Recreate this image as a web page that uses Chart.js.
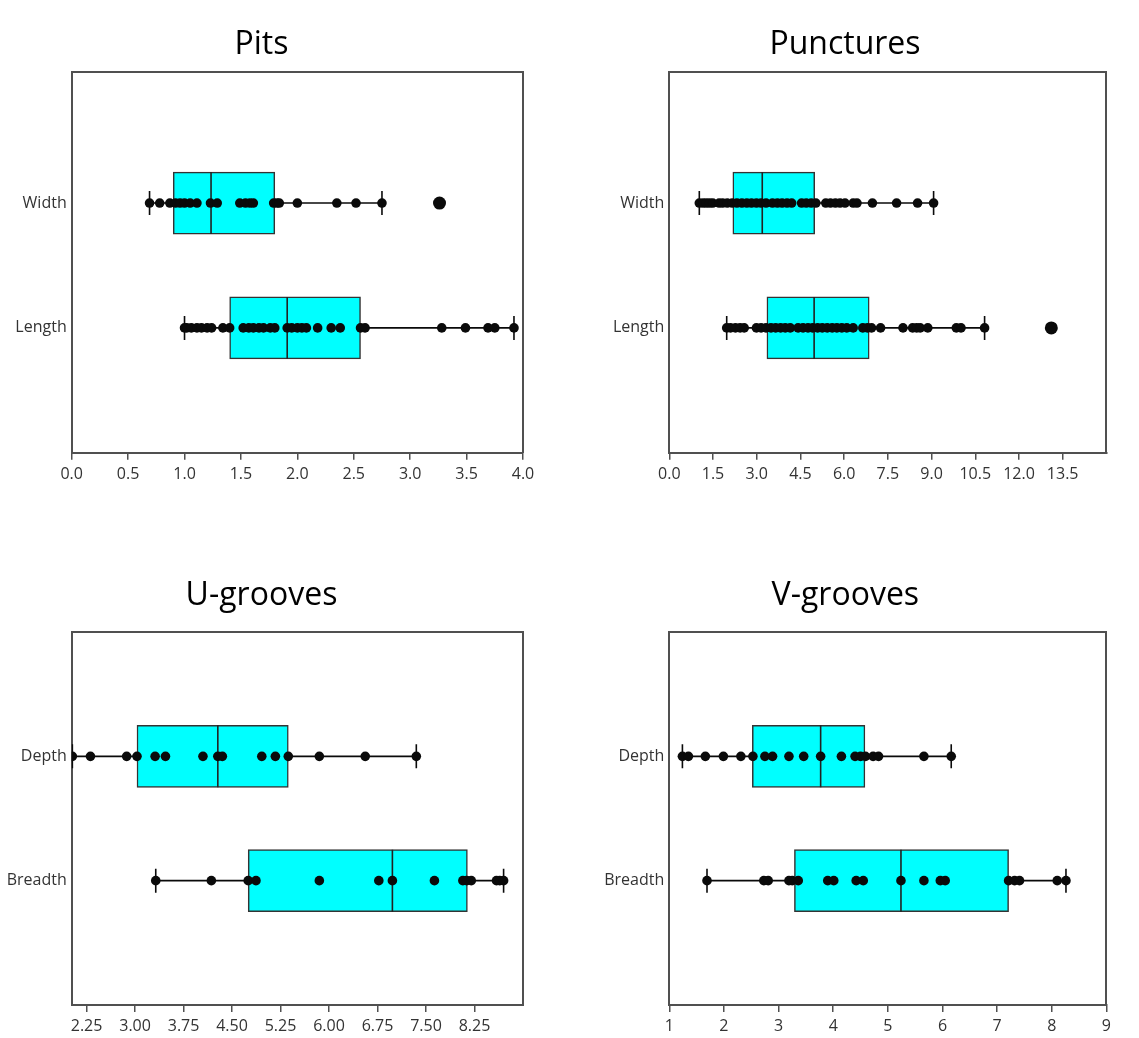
<!DOCTYPE html>
<html>
<head>
<meta charset="utf-8">
<title>Box plots - Pits, Punctures, U-grooves, V-grooves</title>
<script src="https://cdn.jsdelivr.net/npm/chart.js@4.4.1/dist/chart.umd.min.js"></script>
<style>
  html, body { margin: 0; padding: 0; background: #fff; }
  #wrap { position: relative; width: 1139px; height: 1038px; }
  .panel { position: absolute; }
</style>
</head>
<body>
<div id="wrap">
  <canvas id="pits" class="panel" width="569" height="519" style="left:0;top:0"></canvas>
  <canvas id="punctures" class="panel" width="570" height="519" style="left:569px;top:0"></canvas>
  <canvas id="ugrooves" class="panel" width="569" height="519" style="left:0;top:519px"></canvas>
  <canvas id="vgrooves" class="panel" width="570" height="519" style="left:569px;top:519px"></canvas>
</div>
<script>
/* ---------- values ---------- */

// Pits
var pitsCategories = ['Width', 'Length'];
var pitsWidth = [0.69, 0.78, 0.87, 0.92, 0.96, 1.00, 1.05, 1.11, 1.23, 1.29, 1.49, 1.54, 1.58, 1.61,
                 1.79, 1.82, 1.84, 2.00, 2.35, 2.52, 2.75];
var pitsLength = [1.00, 1.02, 1.06, 1.11, 1.15, 1.20, 1.24, 1.34, 1.40, 1.52, 1.57, 1.61, 1.66, 1.70,
                  1.76, 1.80, 1.91, 1.95, 2.00, 2.04, 2.08, 2.18, 2.30, 2.38, 2.56, 2.60, 3.28, 3.49,
                  3.69, 3.75, 3.92];
var pitsOutliers = [[3.26], []];
var pitsMin = [0.69, 1.00];
var pitsQ1 = [0.90, 1.40];
var pitsMedian = [1.235, 1.91];
var pitsQ3 = [1.80, 2.56];
var pitsMax = [2.75, 3.92];
var pitsTicks = [0, 0.5, 1.0, 1.5, 2.0, 2.5, 3.0, 3.5, 4.0];

// Punctures
var puncCategories = ['Width', 'Length'];
var puncWidth = [1.03, 1.16, 1.27, 1.38, 1.49, 1.71, 1.83, 1.99, 2.16, 2.32, 2.49, 2.66, 2.82, 2.99,
                 3.15, 3.32, 3.54, 3.71, 3.87, 4.04, 4.20, 4.54, 4.70, 4.87, 5.03, 5.37, 5.53, 5.70,
                 5.86, 6.03, 6.31, 6.44, 6.97, 7.80, 8.52, 9.07];
var puncLength = [1.97, 2.10, 2.27, 2.43, 2.57, 2.99, 3.15, 3.32, 3.49, 3.65, 3.82, 3.98, 4.15, 4.42,
                  4.59, 4.76, 4.92, 5.09, 5.25, 5.42, 5.59, 5.75, 5.92, 6.09, 6.31, 6.64, 6.80, 6.94,
                  7.25, 8.02, 8.35, 8.49, 8.61, 8.87, 9.85, 10.01, 10.82];
var puncOutliers = [[], [13.11]];
var puncMin = [1.03, 1.97];
var puncQ1 = [2.18, 3.35];
var puncMedian = [3.19, 4.97];
var puncQ3 = [4.99, 6.86];
var puncMax = [9.07, 10.82];
var puncTicks = [0, 1.5, 3.0, 4.5, 6.0, 7.5, 9.0, 10.5, 12.0, 13.5];

// U-grooves
var ugCategories = ['Depth', 'Breadth'];
var ugDepth = [2.03, 2.31, 2.87, 3.03, 3.31, 3.47, 4.05, 4.28, 4.35, 4.96, 5.17, 5.37, 5.85, 6.56, 7.35];
var ugBreadth = [3.32, 4.18, 4.75, 4.87, 5.85, 6.77, 6.98, 7.63, 8.07, 8.13, 8.20, 8.59, 8.64, 8.70];
var ugOutliers = [[], []];
var ugMin = [2.03, 3.32];
var ugQ1 = [3.03, 4.75];
var ugMedian = [4.28, 6.98];
var ugQ3 = [5.37, 8.14];
var ugMax = [7.35, 8.70];
var ugTicks = [2.25, 3.00, 3.75, 4.50, 5.25, 6.00, 6.75, 7.50, 8.25];

// V-grooves
var vgCategories = ['Depth', 'Breadth'];
var vgDepth = [1.24, 1.35, 1.66, 1.99, 2.31, 2.53, 2.75, 2.89, 3.19, 3.46, 3.77, 4.15, 4.40, 4.50,
               4.59, 4.73, 4.83, 5.66, 6.16];
var vgBreadth = [1.69, 2.73, 2.81, 3.19, 3.25, 3.36, 3.90, 4.01, 4.42, 4.55, 5.24, 5.66, 5.96, 6.05,
                 7.21, 7.32, 7.41, 8.10, 8.26];
var vgOutliers = [[], []];
var vgMin = [1.24, 1.69];
var vgQ1 = [2.52, 3.29];
var vgMedian = [3.77, 5.24];
var vgQ3 = [4.58, 7.21];
var vgMax = [6.16, 8.26];
var vgTicks = [1, 2, 3, 4, 5, 6, 7, 8, 9];

/* ---------- styling ---------- */
var CYAN = '#00FFFF';
var INK = '#0a0a0a';
var FRAME = '#505050';
var TEXT = '#333333';
var FONT = "'Open Sans', 'Noto Sans', 'DejaVu Sans', sans-serif";

Chart.defaults.font.family = FONT;

function toPoints(values, rowIndex) {
  return values.map(function(v) { return { x: v, y: rowIndex + 1 }; });
}

function makePanel(canvasId, cfg) {
  var L = cfg.layout;
  var rows = cfg.categories.length;
  var dots = [], outs = [], meds = [], caps = [], boxes = [];
  var whiskers = [];

  for (var i = 0; i < rows; i++) {
    dots = dots.concat(toPoints(cfg.points[i], i));
    outs = outs.concat(toPoints(cfg.outliers[i], i));
    meds.push({ x: cfg.median[i], y: i + 1 });
    caps.push({ x: cfg.min[i], y: i + 1 });
    caps.push({ x: cfg.max[i], y: i + 1 });
    boxes.push({ x: [cfg.q1[i], cfg.q3[i]], y: i + 1 });
    // whisker line runs under the box, from min to max
    whiskers.push({
      type: 'scatter',
      showLine: true,
      data: [{ x: cfg.min[i], y: i + 1 }, { x: cfg.max[i], y: i + 1 }],
      borderColor: INK,
      borderWidth: 1.6,
      pointRadius: 0,
      order: 5
    });
  }

  var datasets = [
    { type: 'scatter', data: dots, pointRadius: 4.8, backgroundColor: INK, borderWidth: 0, order: 1 },
    { type: 'scatter', data: outs, pointRadius: 6.5, backgroundColor: INK, borderWidth: 0, order: 1 },
    { type: 'scatter', data: meds, pointStyle: 'line', rotation: 90, pointRadius: 31,
      borderColor: '#222', borderWidth: 1.6, order: 2 },
    { type: 'scatter', data: caps, pointStyle: 'line', rotation: 90, pointRadius: 12,
      borderColor: INK, borderWidth: 1.6, order: 2 },
    { type: 'bar', indexAxis: 'y', data: boxes, barThickness: 62, backgroundColor: CYAN,
      borderColor: '#333', borderWidth: 1.5, borderSkipped: false, order: 3 }
  ].concat(whiskers);

  var tickFont = { family: FONT, size: 16 };

  return new Chart(document.getElementById(canvasId).getContext('2d'), {
    type: 'scatter',
    data: { datasets: datasets },
    options: {
      responsive: false,
      animation: false,
      events: [],
      layout: { padding: { left: 0, right: L.padRight, top: 0, bottom: L.padBottom } },
      plugins: {
        legend: { display: false },
        tooltip: { enabled: false },
        title: {
          display: true,
          text: cfg.title,
          color: '#000',
          font: { family: FONT, size: 32, weight: 'normal', lineHeight: 1 },
          padding: { top: L.titleTop, bottom: L.titleBottom }
        }
      },
      scales: {
        x: {
          type: 'linear',
          position: 'bottom',
          min: cfg.xMin,
          max: cfg.xMax,
          beginAtZero: false,
          afterBuildTicks: function(s) { s.ticks = cfg.ticks.map(function(v) { return { value: v }; }); },
          afterFit: function(s) { s.height = L.xAxisHeight; },
          ticks: {
            autoSkip: false, maxRotation: 0, padding: 5, color: TEXT, font: tickFont,
            callback: function(v) { return Number(v).toFixed(cfg.decimals); }
          },
          grid: { drawOnChartArea: false, drawTicks: true, tickLength: 7, color: FRAME, lineWidth: 1.5 },
          border: { display: true, color: FRAME, width: 2 }
        },
        y: {
          type: 'linear',
          position: 'left',
          min: L.yMin,
          max: 3,
          reverse: true,
          offset: false,
          afterBuildTicks: function(s) { s.ticks = cfg.categories.map(function(c, i) { return { value: i + 1 }; }); },
          afterFit: function(s) { s.width = L.yAxisWidth; },
          ticks: {
            padding: 5, color: TEXT, font: tickFont,
            callback: function(v) { return cfg.categories[v - 1]; }
          },
          grid: { display: false, drawTicks: false, offset: false },
          border: { display: true, color: FRAME, width: 2 }
        },
        xTop: {
          type: 'linear', axis: 'x', position: 'top',
          ticks: { display: false },
          grid: { display: false, drawTicks: false },
          border: { display: true, color: FRAME, width: 2 },
          afterFit: function(s) { s.height = 0; }
        },
        yRight: {
          type: 'linear', axis: 'y', position: 'right',
          ticks: { display: false },
          grid: { display: false, drawTicks: false },
          border: { display: true, color: FRAME, width: 2 },
          afterFit: function(s) { s.width = 0; }
        }
      }
    }
  });
}

var topLeft = { yAxisWidth: 71.7, padRight: 46, titleTop: 29, titleBottom: 11, xAxisHeight: 36, padBottom: 30.3, yMin: -0.05 };
var topRight = { yAxisWidth: 100.3, padRight: 18, titleTop: 29, titleBottom: 11, xAxisHeight: 36, padBottom: 30.3, yMin: -0.05 };
var botLeft = { yAxisWidth: 71.7, padRight: 46, titleTop: 61, titleBottom: 20, xAxisHeight: 33, padBottom: 0, yMin: 0 };
var botRight = { yAxisWidth: 100.3, padRight: 17.3, titleTop: 61, titleBottom: 20, xAxisHeight: 33, padBottom: 0, yMin: 0 };

makePanel('pits', {
  title: 'Pits', categories: pitsCategories, points: [pitsWidth, pitsLength], outliers: pitsOutliers,
  min: pitsMin, q1: pitsQ1, median: pitsMedian, q3: pitsQ3, max: pitsMax,
  ticks: pitsTicks, decimals: 1, xMin: 0, xMax: 4, layout: topLeft
});

makePanel('punctures', {
  title: 'Punctures', categories: puncCategories, points: [puncWidth, puncLength], outliers: puncOutliers,
  min: puncMin, q1: puncQ1, median: puncMedian, q3: puncQ3, max: puncMax,
  ticks: puncTicks, decimals: 1, xMin: 0, xMax: 15, layout: topRight
});

makePanel('ugrooves', {
  title: 'U-grooves', categories: ugCategories, points: [ugDepth, ugBreadth], outliers: ugOutliers,
  min: ugMin, q1: ugQ1, median: ugMedian, q3: ugQ3, max: ugMax,
  ticks: ugTicks, decimals: 2, xMin: 2.02, xMax: 9.0, layout: botLeft
});

makePanel('vgrooves', {
  title: 'V-grooves', categories: vgCategories, points: [vgDepth, vgBreadth], outliers: vgOutliers,
  min: vgMin, q1: vgQ1, median: vgMedian, q3: vgQ3, max: vgMax,
  ticks: vgTicks, decimals: 0, xMin: 1, xMax: 9, layout: botRight
});
</script>
</body>
</html>
